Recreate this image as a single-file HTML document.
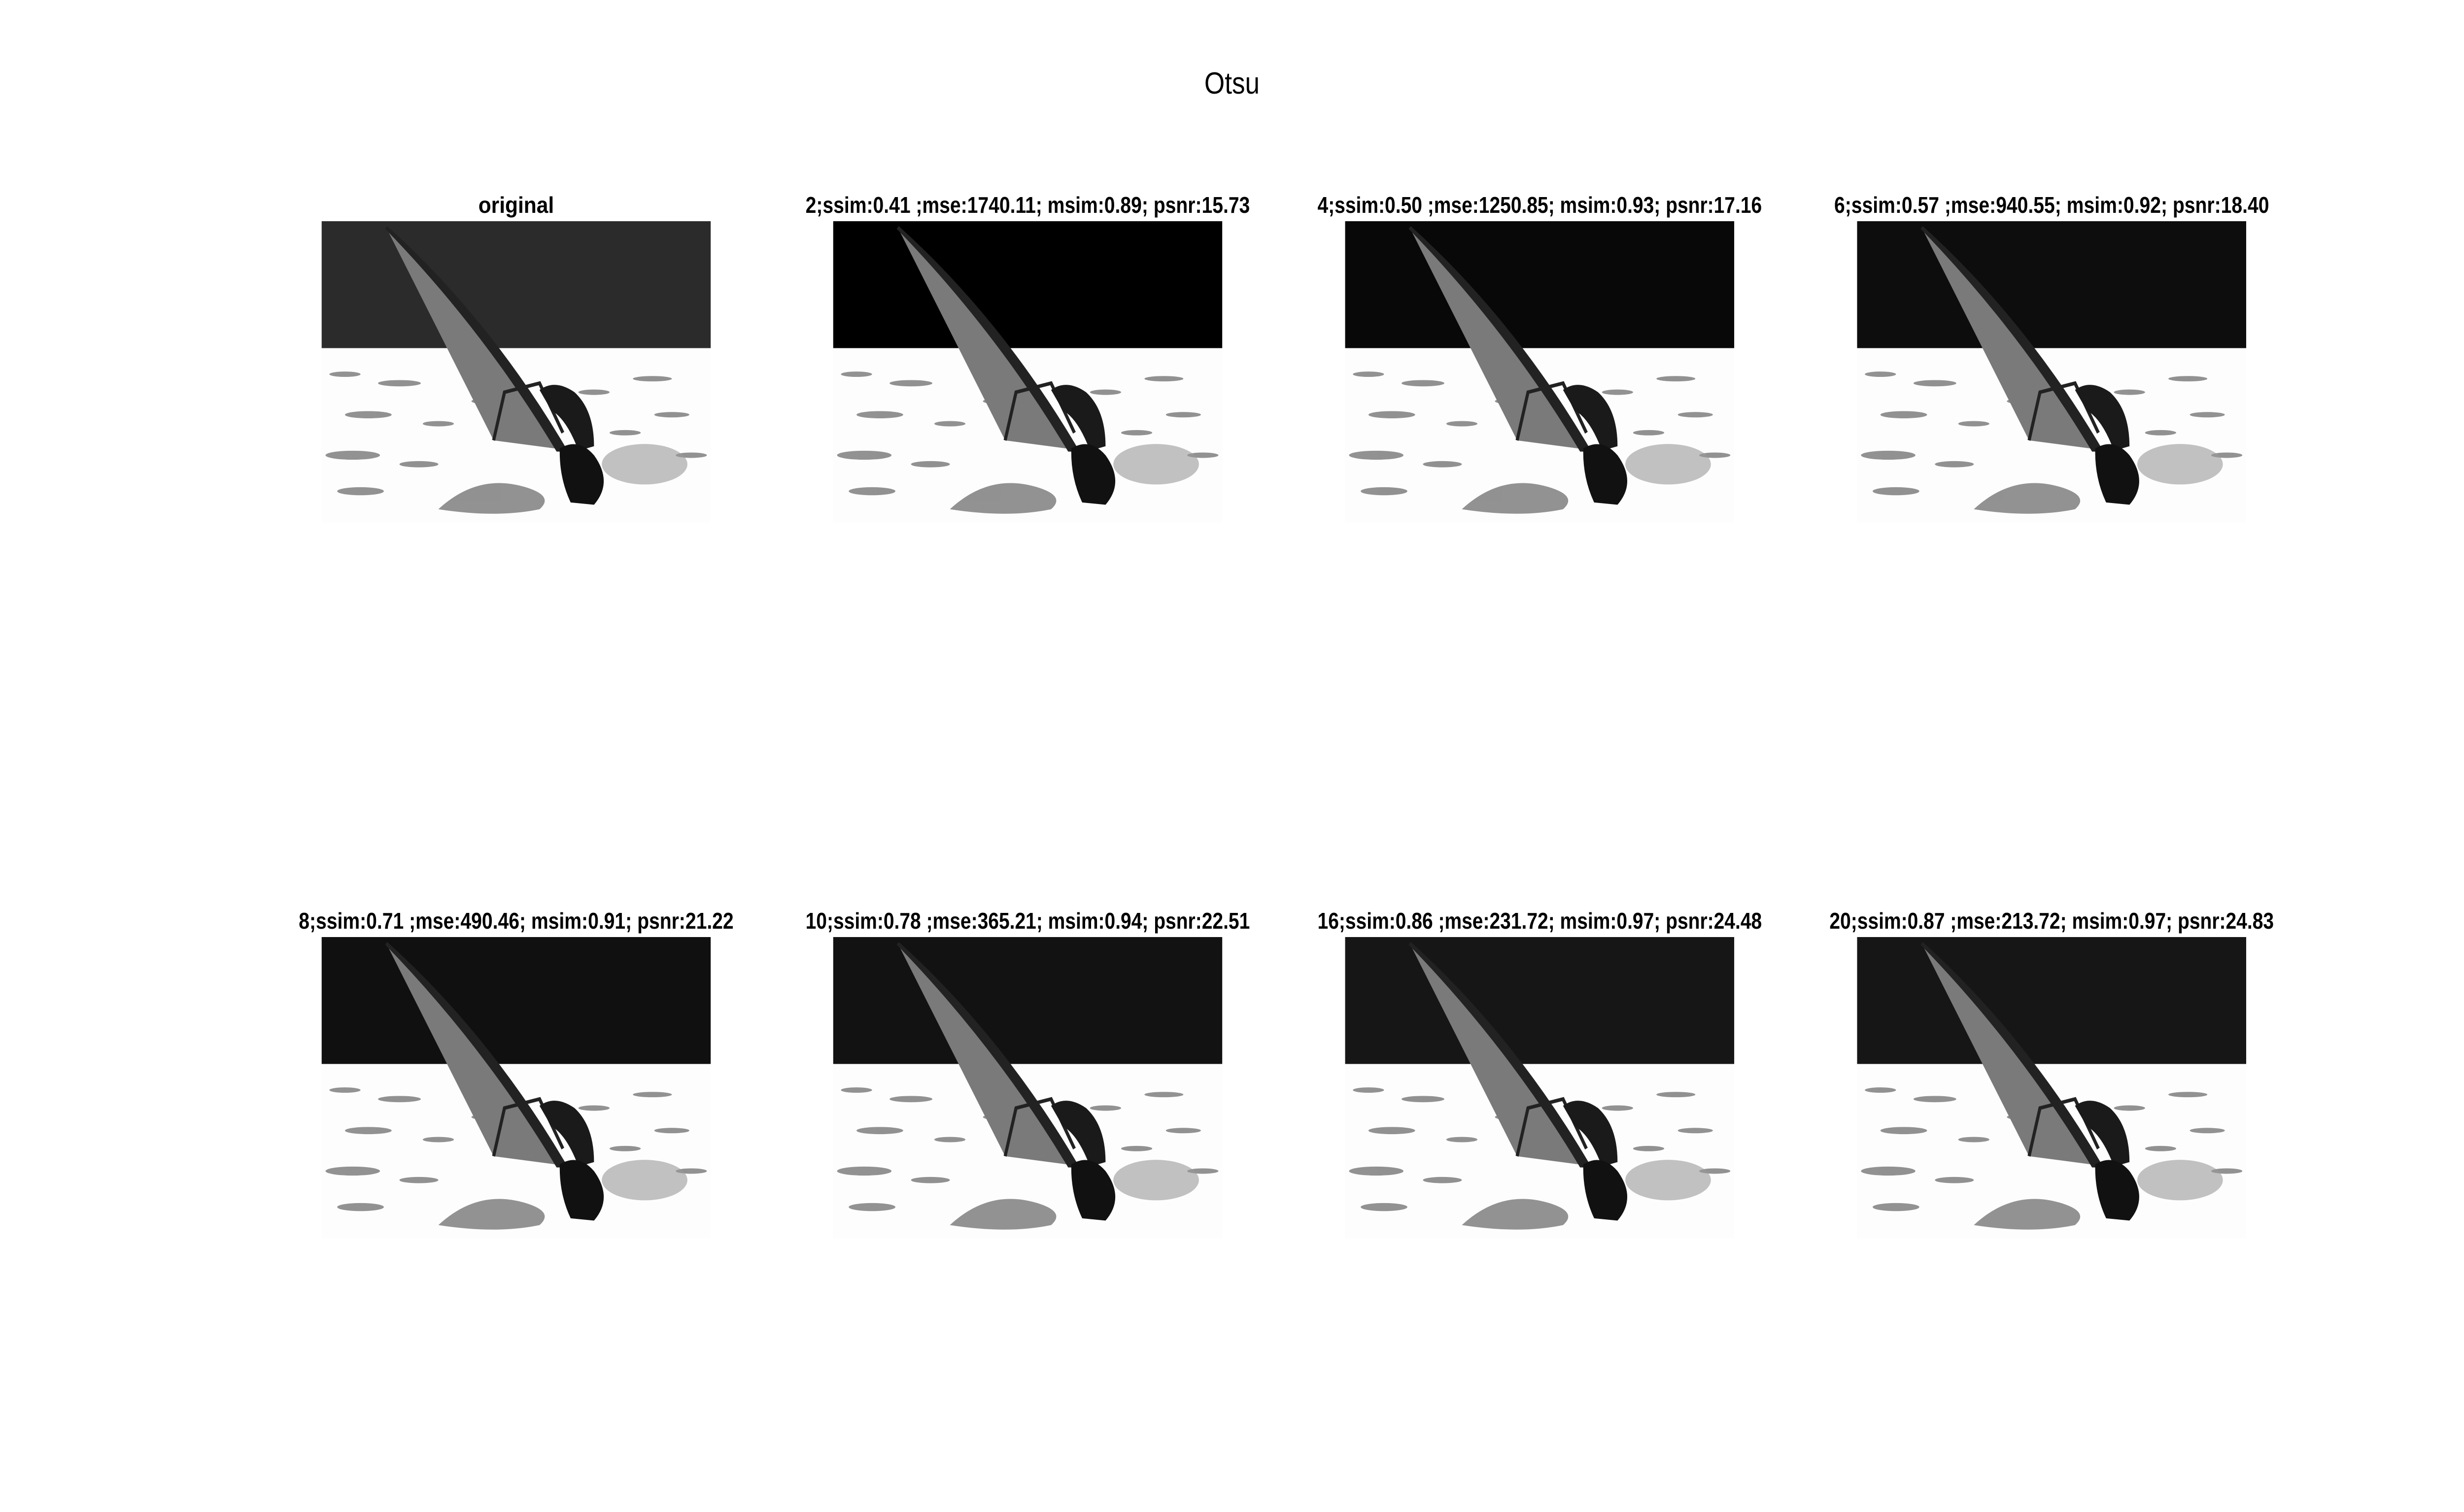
<!DOCTYPE html>
<html><head><meta charset="utf-8"><style>
html,body{margin:0;padding:0;background:#fff;overflow:hidden;width:100%;height:100%;}
svg{display:block;position:absolute;left:0;top:0;width:100vw;height:100vh;}
text{font-family:"Liberation Sans",sans-serif;fill:#000;}
</style></head><body>
<svg id="fig" viewBox="0 0 5838 3069" preserveAspectRatio="none" xmlns="http://www.w3.org/2000/svg">
<defs>
<symbol id="photo" viewBox="0 0 1000 670" preserveAspectRatio="none">
  <rect x="0" y="0" width="1000" height="670" fill="#fdfdfd"/>
  <rect x="0" y="0" width="1000" height="282" fill="currentColor"/>
  <g fill="#777" opacity="0.8">
    <ellipse cx="60" cy="340" rx="40" ry="6"/><ellipse cx="200" cy="360" rx="55" ry="7"/>
    <ellipse cx="420" cy="330" rx="30" ry="5"/><ellipse cx="850" cy="350" rx="50" ry="6"/>
    <ellipse cx="900" cy="430" rx="45" ry="6"/><ellipse cx="120" cy="430" rx="60" ry="8"/>
    <ellipse cx="300" cy="450" rx="40" ry="6"/><ellipse cx="780" cy="470" rx="40" ry="6"/>
    <ellipse cx="80" cy="520" rx="70" ry="10"/><ellipse cx="250" cy="540" rx="50" ry="7"/>
    <ellipse cx="950" cy="520" rx="40" ry="6"/><ellipse cx="420" cy="400" rx="35" ry="6"/>
    <ellipse cx="100" cy="600" rx="60" ry="9"/><ellipse cx="700" cy="380" rx="40" ry="6"/>
    <path d="M300 640 Q400 560 520 590 Q600 610 560 640 Q450 660 300 640Z"/>
  </g>
  <g fill="#999" opacity="0.6"><ellipse cx="830" cy="540" rx="110" ry="45"/></g>
  <path d="M166 14 Q430 220 626 508 L442 487 Z" fill="#7a7a7a"/>
  <path d="M166 14 Q430 220 626 508 L606 508 Q420 240 166 14Z" fill="#222" stroke="#222" stroke-width="8"/>
  <polyline points="442,487 470,380 560,360 620,470" fill="none" stroke="#222" stroke-width="8"/>
  <path d="M560 375 Q600 350 650 380 Q700 420 700 500 L660 510 Q630 440 590 420 Z" fill="#1a1a1a"/>
  <path d="M612 505 Q660 480 700 520 Q750 580 700 630 L640 625 Q610 570 612 505Z" fill="#111"/>
</symbol>
</defs>
<text x="2919" y="190" font-size="62" text-anchor="middle">Otsu</text>
<g id="panels"></g>
</svg>
<script>
const titles = ["original","2;ssim:0.41 ;mse:1740.11; msim:0.89; psnr:15.73","4;ssim:0.50 ;mse:1250.85; msim:0.93; psnr:17.16","6;ssim:0.57 ;mse:940.55; msim:0.92; psnr:18.40","8;ssim:0.71 ;mse:490.46; msim:0.91; psnr:21.22","10;ssim:0.78 ;mse:365.21; msim:0.94; psnr:22.51","16;ssim:0.86 ;mse:231.72; msim:0.97; psnr:24.48","20;ssim:0.87 ;mse:213.72; msim:0.97; psnr:24.83"];
const skyColors = ["#2b2b2b","#000000","#080808","#0d0d0d","#101010","#121212","#161616","#161616"];
const ns="http://www.w3.org/2000/svg";
const g=document.getElementById('panels');
const lefts=[762,1974,3187,4400], tops=[449,1902], W=922, H=612;
titles.forEach((t,i)=>{
  const c=i%4, r=Math.floor(i/4);
  const x=lefts[c], y=tops[r];
  const u=document.createElementNS(ns,'use');
  u.setAttribute('href','#photo');
  u.setAttribute('x',x);u.setAttribute('y',y);u.setAttribute('width',W);u.setAttribute('height',H);
  u.setAttribute('color',skyColors[i]);
  
  
  g.appendChild(u);
  const tx=document.createElementNS(ns,'text');
  tx.setAttribute('x',x+W/2);tx.setAttribute('y',y-17);
  tx.setAttribute('text-anchor','middle');tx.setAttribute('font-size','46');tx.setAttribute('font-weight','bold');
  tx.setAttribute('textLength',t.length*22.4);tx.setAttribute('lengthAdjust','spacingAndGlyphs');
  tx.textContent=t;
  
  
  g.appendChild(tx);
});
</script>
</body></html>
